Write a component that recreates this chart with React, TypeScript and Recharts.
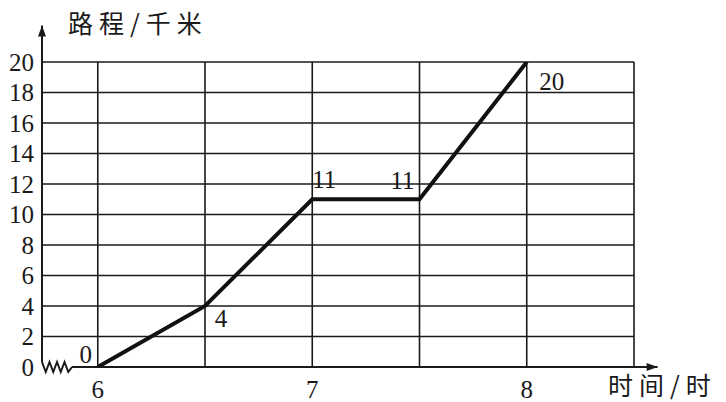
import { CartesianGrid, LabelList, Line, LineChart, ReferenceLine, XAxis, YAxis } from "recharts";

const hours = [6, 6.5, 7, 7.5, 8];
const distances = [0, 4, 11, 11, 20];
const xTicks = [6, 6.5, 7, 7.5, 8, 8.5];
const xTickLabels = ["6", "", "7", "", "8", ""];
const yTicks = [0, 2, 4, 6, 8, 10, 12, 14, 16, 18, 20];

const data = hours.map((h, i) => ({ h, d: distances[i] }));

// where each value label sits relative to its point
const LABEL_OFFSETS = [
  [-12, -13],
  [16, 12],
  [12, -20],
  [-17, -19],
  [25, 19],
];

const NUM_FONT = "'Liberation Serif', 'Times New Roman', 'DejaVu Serif', serif";
const CJK_FONT = "'Noto Sans CJK SC', sans-serif";
const INK = "#1a1a1a";

const ArrowLine = (props: any) => {
  const { x1, y1, x2, y2 } = props;
  const vertical = Math.abs(x1 - x2) < 1;
  const head = vertical
    ? `M${x2 - 4},${y2 + 11} L${x2},${y2} L${x2 + 4},${y2 + 11} Z`
    : `M${x2 - 11},${y2 - 4} L${x2},${y2} L${x2 - 11},${y2 + 4} Z`;
  return (
    <g>
      <line x1={x1} y1={y1} x2={x2} y2={y2} stroke={INK} strokeWidth={2} />
      <path d={head} fill={INK} />
    </g>
  );
};

const Zigzag = (props: any) => {
  const { x1, y1, x2 } = props;
  const n = 8;
  const step = (x2 - x1) / n;
  let d = `M${x1},${y1 - 5}`;
  for (let i = 1; i <= n; i++) {
    const yy = i === n ? y1 : i % 2 === 1 ? y1 + 5 : y1 - 5;
    d += ` L${x1 + step * i},${yy}`;
  }
  return <path d={d} fill="none" stroke={INK} strokeWidth={2} />;
};

const ValueLabel = (props: any) => {
  const { x, y, value, index } = props;
  const [dx, dy] = LABEL_OFFSETS[index] || [0, 0];
  return (
    <text
      x={x + dx}
      y={y + dy}
      textAnchor="middle"
      dominantBaseline="central"
      style={{ fontFamily: NUM_FONT, fontSize: 25 }}
      fill={INK}
    >
      {value}
    </text>
  );
};

export default function App() {
  return (
    <div
      style={{
        position: "absolute",
        left: 0,
        top: 0,
        width: 726,
        height: 402,
        background: "#fff",
        fontFamily: NUM_FONT,
      }}
    >
      <LineChart
        width={726}
        height={402}
        data={data}
        margin={{ top: 62, right: 92, bottom: 0, left: 0 }}
        style={{ fontFamily: NUM_FONT }}
      >
        <CartesianGrid
          stroke={INK}
          strokeWidth={1.6}
          horizontalValues={yTicks.filter((t) => t > 0)}
          verticalValues={xTicks}
        />
        <XAxis
          dataKey="h"
          type="number"
          domain={[5.74, 8.5]}
          ticks={xTicks}
          allowDataOverflow
          axisLine={false}
          tickLine={false}
          tickMargin={7}
          height={35}
          interval={0}
          tickFormatter={(v: number) => xTickLabels[xTicks.indexOf(v)] ?? ""}
          tick={{ fontSize: 25, fill: INK, style: { fontFamily: NUM_FONT } }}
        />
        <YAxis
          type="number"
          domain={[0, 20]}
          ticks={yTicks}
          allowDataOverflow
          axisLine={false}
          tickLine={false}
          width={42}
          interval={0}
          tick={{ fontSize: 25, fill: INK, style: { fontFamily: NUM_FONT } }}
        />
        <ReferenceLine
          segment={[
            { x: 5.74, y: 0.33 },
            { x: 5.74, y: 22.4 },
          ]}
          ifOverflow="visible"
          shape={ArrowLine}
        />
        <ReferenceLine
          segment={[
            { x: 5.74, y: 0 },
            { x: 5.88, y: 0 },
          ]}
          ifOverflow="visible"
          shape={Zigzag}
        />
        <ReferenceLine
          segment={[
            { x: 5.88, y: 0 },
            { x: 8.61, y: 0 },
          ]}
          ifOverflow="visible"
          shape={ArrowLine}
        />
        <Line
          type="linear"
          dataKey="d"
          stroke="#111"
          strokeWidth={4}
          dot={false}
          isAnimationActive={false}
        >
          <LabelList dataKey="d" content={ValueLabel} />
        </Line>
      </LineChart>
      <div
        style={{
          position: "absolute",
          left: 68,
          top: 4,
          fontFamily: CJK_FONT,
          fontSize: 25,
          letterSpacing: 6,
          color: INK,
          whiteSpace: "nowrap",
        }}
      >
        路程/千米
      </div>
      <div
        style={{
          position: "absolute",
          left: 608,
          top: 366,
          fontFamily: CJK_FONT,
          fontSize: 25,
          letterSpacing: 6,
          color: INK,
          whiteSpace: "nowrap",
        }}
      >
        时间/时
      </div>
    </div>
  );
}
